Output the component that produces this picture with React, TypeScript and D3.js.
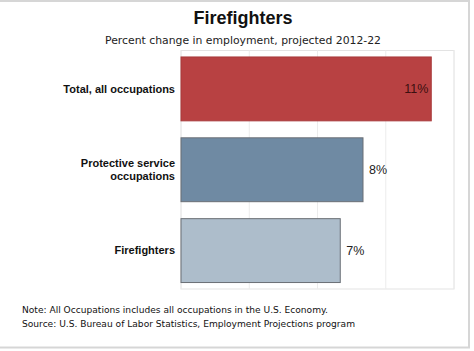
import { scaleLinear, scaleBand } from "d3";

const categories = ["Total, all occupations", "Protective service occupations", "Firefighters"];
const labelLines = [["Total, all occupations"], ["Protective service", "occupations"], ["Firefighters"]];
const values = [11, 8, 7];
const valueLabels = ["11%", "8%", "7%"];
const ticks = [0, 3, 6, 9, 12];
const colors = ["#b84142", "#6f8aa3", "#adbdcb"];

const W = 474, H = 351;
const P = { left: 181, right: 454, top: 50.5, bottom: 289 };
const FONT = "'Liberation Sans', Arial, sans-serif";
const FONT2 = "'DejaVu Sans', Verdana, sans-serif";

export default function App() {
  const x = scaleLinear().domain([0, 12]).range([P.left, P.right]);
  const y = scaleBand().domain(categories).range([P.top, P.bottom]).paddingInner(0.21).paddingOuter(0.08);
  return (
    <svg width={W} height={H} style={{ position: "absolute", left: 0, top: 0, background: "#fff" }}>
      <rect x={-2} y={1} width={471} height={346.5} fill="#fff" stroke="#d6d6d6" strokeWidth={2} />
      <text x={243} y={24} textAnchor="middle" fontFamily={FONT} fontWeight="bold" fontSize={18} fill="#111">Firefighters</text>
      <text x={243} y={44} textAnchor="middle" fontFamily={FONT2} fontSize={11} fill="#222" textLength={276} lengthAdjust="spacingAndGlyphs">
        Percent change in employment, projected 2012-22
      </text>
      <rect x={P.left} y={P.top} width={P.right - P.left} height={P.bottom - P.top} fill="none" stroke="#e3e3e3" />
      {ticks.map(t => (
        <line key={t} x1={x(t)} x2={x(t)} y1={P.top} y2={P.bottom} stroke="#ececec" />
      ))}
      {categories.map((c, i) => {
        const y0 = y(c) ?? 0, bw = y.bandwidth(), cy = y0 + bw / 2;
        const inside = i === 0;
        const lines = labelLines[i];
        return (
          <g key={c}>
            <rect x={x(0)} y={y0} width={x(values[i]) - x(0)} height={bw} fill={colors[i]} stroke={i === 0 ? "#a83a3b" : "#6a6f75"} strokeWidth={1} />
            {lines.map((l, j) => (
              <text key={l} x={175} y={cy + (j - (lines.length - 1) / 2) * 13.5} dy="0.35em" textAnchor="end"
                fontFamily={FONT} fontWeight="bold" fontSize={11} fill="#111">{l}</text>
            ))}
            <text x={inside ? x(values[i]) - 3 : x(values[i]) + 6} y={cy} dy="0.35em" textAnchor={inside ? "end" : "start"}
              fontFamily={FONT} fontSize={12.5} fill={inside ? "#3a1010" : "#222"}>{valueLabels[i]}</text>
          </g>
        );
      })}
      <text x={22} y={313} fontFamily={FONT2} fontSize={9.5} fill="#111" textLength={306} lengthAdjust="spacingAndGlyphs">
        Note: All Occupations includes all occupations in the U.S. Economy.
      </text>
      <text x={22} y={327} fontFamily={FONT2} fontSize={9.5} fill="#111" textLength={333} lengthAdjust="spacingAndGlyphs">
        Source: U.S. Bureau of Labor Statistics, Employment Projections program
      </text>
    </svg>
  );
}
